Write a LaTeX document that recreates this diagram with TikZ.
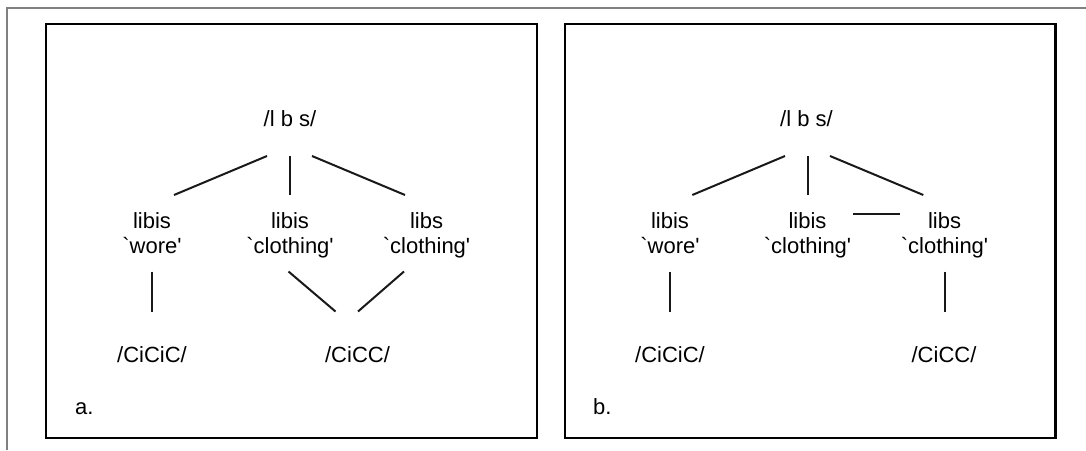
\documentclass[tikz,border=0pt]{standalone}
\usepackage{fontspec}
\setmainfont{Liberation Sans}[Ligatures=TeXOff]
\usetikzlibrary{calc}

\begin{document}
\begin{tikzpicture}[x=1pt, y=-1pt]
    \tikzstyle{lbl}=[inner sep=0pt, font=\fontsize{22}{25}\selectfont,
                     align=center, anchor=base]
    \tikzstyle{ln}=[line width=2pt, black!90]
    \tikzstyle{panel}=[line width=2.2pt, black]
    \tikzstyle{outer}=[line width=2pt, black!50]

    \useasboundingbox (0,0) rectangle (1086,450);
    \draw[outer] (1086,8) -- (7.3,8) -- (7.3,450);
    \draw[panel] (45.7,24) rectangle (536.6,438.3);
    \draw[panel] (564.6,24) rectangle (1055.4,438.3);

    % panel a
    \node[lbl] (at)  at (290,126.5)  {/l b s/};
    \node[lbl] (al)  at (152,253)    {libis\\`wore'};
    \node[lbl] (am)  at (290,253)    {libis\\`clothing'};
    \node[lbl] (ar)  at (426.5,253)  {libs\\`clothing'};
    \node[lbl] (ac1) at (152,362)    {/CiCiC/};
    \node[lbl] (ac2) at (357.5,362)  {/CiCC/};
    \node[lbl, anchor=base west] (alab) at (75,414) {a.};

    \draw[ln] ($(at.base)+(-23,29.5)$) -- ($(al.base)+(22,-58)$);
    \draw[ln] ($(at.base)+(0,29.5)$)   -- ($(am.base)+(0,-58)$);
    \draw[ln] ($(at.base)+(22,29.5)$)  -- ($(ar.base)+(-21.5,-58)$);
    \draw[ln] ($(al.base)+(0,18.5)$)   -- ($(ac1.base)+(0,-50.5)$);
    \draw[ln] ($(am.base)+(-1.5,18.5)$) -- ($(ac2.base)+(-22,-50.5)$);
    \draw[ln] ($(ar.base)+(-22.5,18.5)$) -- ($(ac2.base)+(0.5,-50.5)$);

    % panel b
    \node[lbl] (bt)  at (806.5,126.5) {/l b s/};
    \node[lbl] (bl)  at (670,253)     {libis\\`wore'};
    \node[lbl] (bm)  at (807.5,253)   {libis\\`clothing'};
    \node[lbl] (br)  at (944.5,253)   {libs\\`clothing'};
    \node[lbl] (bc1) at (670,362)     {/CiCiC/};
    \node[lbl] (bc2) at (944,362)     {/CiCC/};
    \node[lbl, anchor=base west] (blab) at (593,414) {b.};

    \draw[ln] ($(bt.base)+(-21.5,29.5)$) -- ($(bl.base)+(22.3,-58)$);
    \draw[ln] ($(bt.base)+(1,29.5)$)     -- ($(bm.base)+(0,-58)$);
    \draw[ln] ($(bt.base)+(23.5,29.5)$)  -- ($(br.base)+(-21.2,-58)$);
    \draw[ln] ($(bm.base)+(45.8,-39)$)   -- ($(br.base)+(-45,-39)$);
    \draw[ln] ($(bl.base)+(0,18.5)$)     -- ($(bc1.base)+(0,-50.5)$);
    \draw[ln] ($(br.base)+(0,18.5)$)     -- ($(bc2.base)+(0.5,-50.5)$);
\end{tikzpicture}
\end{document}
